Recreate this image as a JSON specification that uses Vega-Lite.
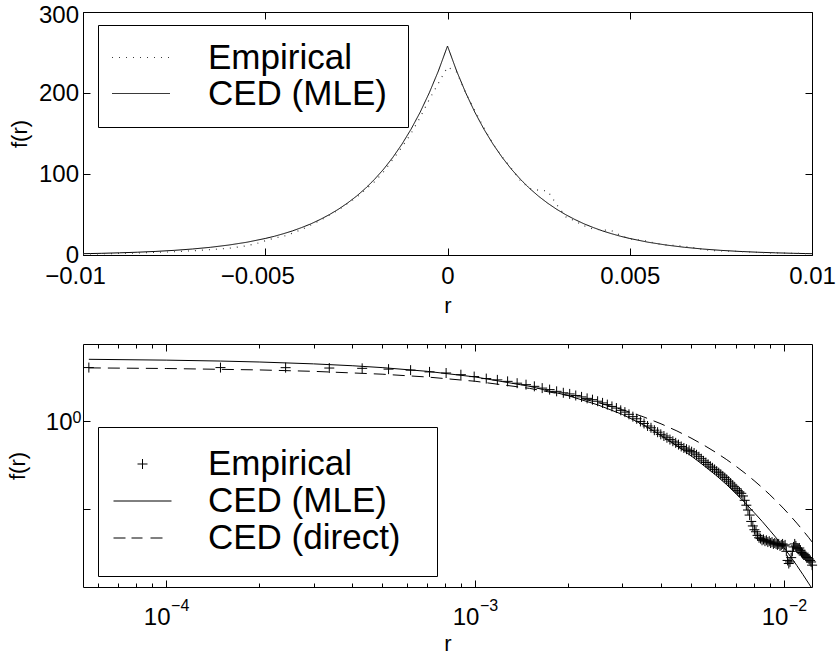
{
  "$schema": "https://vega.github.io/schema/vega-lite/v6.json",
  "background": "white",
  "padding": {"left": 5, "top": 2, "right": 0, "bottom": 0},
  "spacing": 89,
  "bounds": "flush",
  "datasets": {
    "topMLE": [
      {"r": -0.01, "f": 1.61}, {"r": -0.0095, "f": 2.08}, {"r": -0.009, "f": 2.68}, {"r": -0.0085, "f": 3.45}, {"r": -0.008, "f": 4.45}, {"r": -0.0075, "f": 5.73}, {"r": -0.007, "f": 7.39}, {"r": -0.0065, "f": 9.52}, {"r": -0.006, "f": 12.3}, {"r": -0.0055, "f": 15.8}, {"r": -0.005, "f": 20.4}, {"r": -0.00475, "f": 23.1}, {"r": -0.0045, "f": 26.3}, {"r": -0.00425, "f": 29.8}, {"r": -0.004, "f": 33.9}, {"r": -0.00375, "f": 38.4}, {"r": -0.0035, "f": 43.7}, {"r": -0.00325, "f": 49.6}, {"r": -0.003, "f": 56.3}, {"r": -0.00275, "f": 63.9}, {"r": -0.0025, "f": 72.5}, {"r": -0.00225, "f": 82.3}, {"r": -0.002, "f": 93.5}, {"r": -0.00175, "f": 106.1}, {"r": -0.0015, "f": 120.5}, {"r": -0.00125, "f": 136.8}, {"r": -0.001, "f": 155.3}, {"r": -0.00075, "f": 176.3}, {"r": -0.0005, "f": 200.2}, {"r": -0.00025, "f": 227.2}, {"r": 0, "f": 258},
      {"r": 0.00025, "f": 227.2}, {"r": 0.0005, "f": 200.2}, {"r": 0.00075, "f": 176.3}, {"r": 0.001, "f": 155.3}, {"r": 0.00125, "f": 136.8}, {"r": 0.0015, "f": 120.5}, {"r": 0.00175, "f": 106.1}, {"r": 0.002, "f": 93.5}, {"r": 0.00225, "f": 82.3}, {"r": 0.0025, "f": 72.5}, {"r": 0.00275, "f": 63.9}, {"r": 0.003, "f": 56.3}, {"r": 0.00325, "f": 49.6}, {"r": 0.0035, "f": 43.7}, {"r": 0.00375, "f": 38.4}, {"r": 0.004, "f": 33.9}, {"r": 0.00425, "f": 29.8}, {"r": 0.0045, "f": 26.3}, {"r": 0.00475, "f": 23.1}, {"r": 0.005, "f": 20.4}, {"r": 0.0055, "f": 15.8}, {"r": 0.006, "f": 12.3}, {"r": 0.0065, "f": 9.52}, {"r": 0.007, "f": 7.39}, {"r": 0.0075, "f": 5.73}, {"r": 0.008, "f": 4.45}, {"r": 0.0085, "f": 3.45}, {"r": 0.009, "f": 2.68}, {"r": 0.0095, "f": 2.08}, {"r": 0.01, "f": 1.61}
    ],
    "topEmp": [
      {"r": -0.01, "f": 1.2}, {"r": -0.00975, "f": 1.4}, {"r": -0.0095, "f": 1.5}, {"r": -0.00925, "f": 1.7}, {"r": -0.009, "f": 2.0}, {"r": -0.00875, "f": 2.2}, {"r": -0.0085, "f": 2.6}, {"r": -0.00825, "f": 2.9}, {"r": -0.008, "f": 3.4}, {"r": -0.00775, "f": 3.6}, {"r": -0.0075, "f": 4.0}, {"r": -0.00725, "f": 4.6}, {"r": -0.007, "f": 5.2}, {"r": -0.00675, "f": 5.9}, {"r": -0.0065, "f": 6.6}, {"r": -0.00625, "f": 7.4}, {"r": -0.006, "f": 8.3}, {"r": -0.00575, "f": 9.8}, {"r": -0.0055, "f": 11.5}, {"r": -0.00525, "f": 14.0}, {"r": -0.005, "f": 17.5}, {"r": -0.00475, "f": 21.0}, {"r": -0.0045, "f": 23.0}, {"r": -0.00425, "f": 27.0}, {"r": -0.004, "f": 31.5}, {"r": -0.00375, "f": 37.0}, {"r": -0.0035, "f": 42.5}, {"r": -0.00325, "f": 49.0}, {"r": -0.003, "f": 55.5}, {"r": -0.00275, "f": 63.5}, {"r": -0.0025, "f": 71.0}, {"r": -0.00225, "f": 81.0}, {"r": -0.002, "f": 90.5}, {"r": -0.00175, "f": 103}, {"r": -0.0015, "f": 118}, {"r": -0.00125, "f": 133}, {"r": -0.001, "f": 150}, {"r": -0.00075, "f": 170}, {"r": -0.0005, "f": 192}, {"r": -0.00025, "f": 212}, {"r": 0, "f": 232},
      {"r": 0.00025, "f": 226}, {"r": 0.0005, "f": 200}, {"r": 0.00075, "f": 178}, {"r": 0.001, "f": 157}, {"r": 0.00125, "f": 137}, {"r": 0.0015, "f": 121}, {"r": 0.00175, "f": 107}, {"r": 0.002, "f": 92}, {"r": 0.00225, "f": 82}, {"r": 0.0025, "f": 80}, {"r": 0.00275, "f": 79}, {"r": 0.003, "f": 62}, {"r": 0.00325, "f": 47}, {"r": 0.0035, "f": 42}, {"r": 0.00375, "f": 36}, {"r": 0.004, "f": 32}, {"r": 0.00425, "f": 31}, {"r": 0.0045, "f": 30}, {"r": 0.00475, "f": 24}, {"r": 0.005, "f": 20}, {"r": 0.00525, "f": 18.5}, {"r": 0.0055, "f": 17}, {"r": 0.00575, "f": 14}, {"r": 0.006, "f": 12.5}, {"r": 0.00625, "f": 11.8}, {"r": 0.0065, "f": 10.5}, {"r": 0.00675, "f": 9}, {"r": 0.007, "f": 7}, {"r": 0.00725, "f": 5.5}, {"r": 0.0075, "f": 5}, {"r": 0.00775, "f": 4.8}, {"r": 0.008, "f": 4.5}, {"r": 0.00825, "f": 3.8}, {"r": 0.0085, "f": 3.2}, {"r": 0.00875, "f": 2.8}, {"r": 0.009, "f": 2.6}, {"r": 0.00925, "f": 2.2}, {"r": 0.0095, "f": 2.0}, {"r": 0.00975, "f": 1.8}, {"r": 0.01, "f": 1.6}
    ],
    "bEmp": [
      {"r": 0.0000562, "f": 4.00}, {"r": 0.0001499, "f": 4.00}, {"r": 0.0002436, "f": 3.99}, {"r": 0.0003373, "f": 3.95}, {"r": 0.000431, "f": 3.92}, {"r": 0.0005247, "f": 3.84}, {"r": 0.0006184, "f": 3.74}, {"r": 0.0007121, "f": 3.57}, {"r": 0.0008058, "f": 3.47}, {"r": 0.0008995, "f": 3.32},
      {"r": 0.0009932, "f": 3.16}, {"r": 0.0010869, "f": 3.00}, {"r": 0.0011806, "f": 2.90}, {"r": 0.0012743, "f": 2.79}, {"r": 0.001368, "f": 2.66}, {"r": 0.0014617, "f": 2.56}, {"r": 0.0015554, "f": 2.45}, {"r": 0.0016491, "f": 2.34}, {"r": 0.0017428, "f": 2.25}, {"r": 0.0018365, "f": 2.15},
      {"r": 0.0019302, "f": 2.07}, {"r": 0.0020239, "f": 2.01}, {"r": 0.0021176, "f": 1.93}, {"r": 0.0022113, "f": 1.86}, {"r": 0.002305, "f": 1.79}, {"r": 0.0023987, "f": 1.73}, {"r": 0.0024924, "f": 1.66}, {"r": 0.0025861, "f": 1.59}, {"r": 0.0026798, "f": 1.52}, {"r": 0.0027735, "f": 1.45},
      {"r": 0.0028672, "f": 1.39}, {"r": 0.0029609, "f": 1.31}, {"r": 0.0030546, "f": 1.25}, {"r": 0.0031483, "f": 1.18}, {"r": 0.003242, "f": 1.11}, {"r": 0.0033357, "f": 1.05}, {"r": 0.0034294, "f": 0.98}, {"r": 0.0035231, "f": 0.93}, {"r": 0.0036168, "f": 0.87}, {"r": 0.0037105, "f": 0.83},
      {"r": 0.0038042, "f": 0.78}, {"r": 0.0038979, "f": 0.74}, {"r": 0.0039916, "f": 0.70}, {"r": 0.0040853, "f": 0.67}, {"r": 0.004179, "f": 0.64}, {"r": 0.0042727, "f": 0.61}, {"r": 0.0043664, "f": 0.585}, {"r": 0.0044601, "f": 0.56}, {"r": 0.0045538, "f": 0.535}, {"r": 0.0046475, "f": 0.51},
      {"r": 0.0047412, "f": 0.49}, {"r": 0.0048349, "f": 0.475}, {"r": 0.0049286, "f": 0.46}, {"r": 0.0050223, "f": 0.445}, {"r": 0.005116, "f": 0.43}, {"r": 0.0052097, "f": 0.41}, {"r": 0.0053034, "f": 0.39}, {"r": 0.0053971, "f": 0.37}, {"r": 0.0054908, "f": 0.35}, {"r": 0.0055845, "f": 0.335},
      {"r": 0.0056782, "f": 0.32}, {"r": 0.0057719, "f": 0.305}, {"r": 0.0058656, "f": 0.292}, {"r": 0.0059593, "f": 0.28}, {"r": 0.006053, "f": 0.268}, {"r": 0.0061467, "f": 0.257}, {"r": 0.0062404, "f": 0.247}, {"r": 0.0063341, "f": 0.236}, {"r": 0.0064278, "f": 0.226}, {"r": 0.0065215, "f": 0.216},
      {"r": 0.0066152, "f": 0.206}, {"r": 0.0067089, "f": 0.196}, {"r": 0.0068026, "f": 0.186}, {"r": 0.0068963, "f": 0.178}, {"r": 0.00699, "f": 0.169}, {"r": 0.0070837, "f": 0.161}, {"r": 0.0071774, "f": 0.155}, {"r": 0.0072711, "f": 0.150}, {"r": 0.0073648, "f": 0.140}, {"r": 0.0074585, "f": 0.125},
      {"r": 0.0075522, "f": 0.110}, {"r": 0.0076459, "f": 0.097}, {"r": 0.0077396, "f": 0.085}, {"r": 0.0078333, "f": 0.072}, {"r": 0.007927, "f": 0.064}, {"r": 0.0080207, "f": 0.058}, {"r": 0.0081144, "f": 0.055}, {"r": 0.0082081, "f": 0.050}, {"r": 0.0083018, "f": 0.047}, {"r": 0.0083955, "f": 0.046},
      {"r": 0.0084892, "f": 0.044}, {"r": 0.0085829, "f": 0.045}, {"r": 0.0086766, "f": 0.043}, {"r": 0.0087703, "f": 0.044}, {"r": 0.008864, "f": 0.042}, {"r": 0.0089577, "f": 0.043}, {"r": 0.0090514, "f": 0.041}, {"r": 0.0091451, "f": 0.042}, {"r": 0.0092388, "f": 0.040}, {"r": 0.0093325, "f": 0.041},
      {"r": 0.0094262, "f": 0.040}, {"r": 0.0095199, "f": 0.039}, {"r": 0.0096136, "f": 0.040}, {"r": 0.0097073, "f": 0.038}, {"r": 0.009801, "f": 0.039}, {"r": 0.0098947, "f": 0.040}, {"r": 0.0099884, "f": 0.038}, {"r": 0.0100821, "f": 0.039}, {"r": 0.0101758, "f": 0.033}, {"r": 0.0102695, "f": 0.026},
      {"r": 0.0103632, "f": 0.024}, {"r": 0.0104569, "f": 0.025}, {"r": 0.0105506, "f": 0.028}, {"r": 0.0106443, "f": 0.033}, {"r": 0.010738, "f": 0.037}, {"r": 0.0108317, "f": 0.040}, {"r": 0.0109254, "f": 0.038}, {"r": 0.0110191, "f": 0.036}, {"r": 0.0111128, "f": 0.035}, {"r": 0.0112065, "f": 0.036},
      {"r": 0.0113002, "f": 0.034}, {"r": 0.0113939, "f": 0.032}, {"r": 0.0114876, "f": 0.031}, {"r": 0.0115813, "f": 0.030}, {"r": 0.011675, "f": 0.030}, {"r": 0.0117687, "f": 0.029}, {"r": 0.0118624, "f": 0.028}, {"r": 0.0119561, "f": 0.028}, {"r": 0.0120498, "f": 0.027}, {"r": 0.0121435, "f": 0.026},
      {"r": 0.0122372, "f": 0.025}, {"r": 0.0123309, "f": 0.023}
    ],
    "bMLE": [
      {"r": 0.0000562, "f": 4.962}, {"r": 0.0001, "f": 4.857}, {"r": 0.00015, "f": 4.740}, {"r": 0.0002, "f": 4.626}, {"r": 0.0003, "f": 4.406}, {"r": 0.0004, "f": 4.196}, {"r": 0.0005, "f": 3.996}, {"r": 0.0007, "f": 3.625}, {"r": 0.001, "f": 3.131}, {"r": 0.0015, "f": 2.454}, {"r": 0.002, "f": 1.923}, {"r": 0.0025, "f": 1.507}, {"r": 0.003, "f": 1.175}, {"r": 0.0035, "f": 0.90}, {"r": 0.004, "f": 0.68}, {"r": 0.0045, "f": 0.52}, {"r": 0.005, "f": 0.40}, {"r": 0.0055, "f": 0.31}, {"r": 0.006, "f": 0.243}, {"r": 0.0065, "f": 0.19}, {"r": 0.007, "f": 0.148}, {"r": 0.0075, "f": 0.116}, {"r": 0.008, "f": 0.091}, {"r": 0.0085, "f": 0.072}, {"r": 0.009, "f": 0.057}, {"r": 0.0095, "f": 0.0455}, {"r": 0.01, "f": 0.0362}, {"r": 0.0105, "f": 0.0288}, {"r": 0.011, "f": 0.0228}, {"r": 0.0115, "f": 0.0181}, {"r": 0.012, "f": 0.0144}, {"r": 0.01232, "f": 0.0125}
    ],
    "bDir": [
      {"r": 0.0000562, "f": 3.967}, {"r": 0.0001, "f": 3.903}, {"r": 0.0002, "f": 3.761}, {"r": 0.0003, "f": 3.624}, {"r": 0.0005, "f": 3.366}, {"r": 0.0007, "f": 3.125}, {"r": 0.001, "f": 2.797}, {"r": 0.0015, "f": 2.324}, {"r": 0.002, "f": 1.931}, {"r": 0.0025, "f": 1.605}, {"r": 0.003, "f": 1.333}, {"r": 0.0035, "f": 1.108}, {"r": 0.004, "f": 0.9206}, {"r": 0.0045, "f": 0.765}, {"r": 0.005, "f": 0.6356}, {"r": 0.0055, "f": 0.5281}, {"r": 0.006, "f": 0.4389}, {"r": 0.0065, "f": 0.3647}, {"r": 0.007, "f": 0.303}, {"r": 0.0075, "f": 0.2518}, {"r": 0.008, "f": 0.2092}, {"r": 0.0085, "f": 0.1739}, {"r": 0.009, "f": 0.1445}, {"r": 0.0095, "f": 0.12}, {"r": 0.01, "f": 0.0998}, {"r": 0.0105, "f": 0.0829}, {"r": 0.011, "f": 0.0689}, {"r": 0.0115, "f": 0.0572}, {"r": 0.012, "f": 0.0476}, {"r": 0.01232, "f": 0.0422}
    ]
  },
  "vconcat": [
    {
      "width": 729,
      "height": 243,
      "layer": [
        {
          "data": {"name": "topMLE"},
          "mark": {"type": "line", "color": "black", "strokeWidth": 1, "clip": true},
          "encoding": {
            "x": {"field": "r", "type": "quantitative", "scale": {"domain": [-0.01, 0.01], "nice": false, "zero": false},
              "axis": {"orient": "bottom", "values": [-0.01, -0.005, 0, 0.005, 0.01], "format": "~g",
                "labelOffset": {"condition": {"test": "datum.value < 0", "value": -8}, "value": 0},
                "title": "r", "labelPadding": 16.5, "titlePadding": 6.5}},
            "y": {"field": "f", "type": "quantitative", "scale": {"domain": [0, 300], "nice": false, "zero": false},
              "axis": {"orient": "left", "values": [0, 100, 200, 300], "format": "d", "title": "f(r)", "labelPadding": 11.5, "titlePadding": 7,
                "labelOffset": {"condition": {"test": "datum.value > 250", "value": 3}, "value": 0}}},
            "strokeDash": {"datum": "CED (MLE)", "type": "nominal",
              "scale": {"domain": ["Empirical", "CED (MLE)"], "range": [[1, 6], [1, 0]]},
              "legend": {"orient": "none", "legendX": 15, "legendY": 13, "padding": 15, "rowPadding": 0,
                "title": "\u00a0", "titleOrient": "right", "titleFontSize": 10, "titlePadding": 6,
                "strokeColor": "black", "fillColor": "white", "cornerRadius": 0,
                "labelFontSize": 35, "labelFont": "Liberation Sans", "labelColor": "black", "labelLimit": 400,
                "symbolType": "M-2.9,0H2.9", "symbolSize": 400, "symbolStrokeWidth": 1, "symbolStrokeColor": "black",
                "symbolOffset": 10.5, "labelOffset": 49.5}}
          }
        },
        {
          "data": {"name": "topEmp"},
          "mark": {"type": "line", "color": "#3a3a3a", "strokeWidth": 1.2, "clip": true},
          "encoding": {
            "x": {"field": "r", "type": "quantitative", "axis": {"orient": "top", "values": [-0.01, -0.005, 0, 0.005, 0.01], "labels": false, "title": null}},
            "y": {"field": "f", "type": "quantitative", "axis": {"orient": "right", "values": [0, 100, 200, 300], "labels": false, "title": null}},
            "strokeDash": {"datum": "Empirical", "type": "nominal"}
          }
        }
      ],
      "resolve": {"axis": {"x": "independent", "y": "independent"}}
    },
    {
      "width": 729,
      "height": 243,
      "layer": [
        {
          "data": {"name": "bEmp"},
          "mark": {"type": "point", "filled": false, "color": "black", "strokeWidth": 1, "size": 400, "opacity": 1},
          "encoding": {
            "x": {"field": "r", "type": "quantitative", "scale": {"type": "log", "domain": [0.0000538, 0.01232], "nice": false, "zero": false},
              "axis": {"orient": "bottom", "values": [0.0001, 0.001, 0.01], "labelExpr": "'10'", "labelOffset": -9.5, "labelPadding": 25, "title": "r", "titlePadding": 4}},
            "y": {"field": "f", "type": "quantitative", "scale": {"type": "log", "domain": [0.013, 7.4], "nice": false, "zero": false},
              "axis": {"orient": "left", "values": [0.1, 1], "labelExpr": "datum.value > 0.5 ? '10' : ''", "labelPadding": 18, "labelOffset": 2, "title": "f(r)", "titlePadding": 16}},
            "shape": {"datum": "Empirical", "type": "nominal",
              "scale": {"domain": ["Empirical", "CED (MLE)", "CED (direct)"],
                "range": ["M-0.5,0H0.5M0,-0.5V0.5", "M-2.9,0H2.9", "M-2.9,0H-1.7M-1.1,0H0M0.8,0H2"]},
              "legend": {"orient": "none", "legendX": 15, "legendY": 415, "padding": 19.5, "rowPadding": 1,
                "title": "\u00a0", "titleOrient": "right", "titleFontSize": 10, "titlePadding": 17,
                "strokeColor": "black", "fillColor": "white", "cornerRadius": 0,
                "labelFontSize": 35, "labelFont": "Liberation Sans", "labelColor": "black", "labelLimit": 400,
                "symbolSize": 400, "symbolStrokeWidth": 1, "symbolStrokeColor": "black", "symbolFillColor": "transparent",
                "symbolOffset": 7.5, "labelOffset": 48}}
          }
        },
        {
          "data": {"name": "bMLE"},
          "mark": {"type": "line", "color": "black", "strokeWidth": 1, "clip": true},
          "encoding": {
            "x": {"field": "r", "type": "quantitative", "axis": {"orient": "top", "values": [0.0001, 0.001, 0.01], "labels": false, "title": null}},
            "y": {"field": "f", "type": "quantitative", "axis": {"orient": "right", "values": [0.1, 1], "labels": false, "title": null}}
          }
        },
        {
          "data": {"name": "bDir"},
          "mark": {"type": "line", "color": "black", "strokeWidth": 1, "strokeDash": [12, 7], "clip": true},
          "encoding": {
            "x": {"field": "r", "type": "quantitative", "axis": {"orient": "bottom", "values": [0.00006, 0.00007, 0.00008, 0.00009, 0.0002, 0.0003, 0.0004, 0.0005, 0.0006, 0.0007, 0.0008, 0.0009, 0.002, 0.003, 0.004, 0.005, 0.006, 0.007, 0.008, 0.009], "labels": false, "tickSize": -4, "title": null}},
            "y": {"field": "f", "type": "quantitative", "axis": {"orient": "left", "values": [1], "labelExpr": "'0'", "ticks": false, "tickSize": 0, "labelFontSize": 16, "labelPadding": 2, "labelOffset": -3.5, "title": null}}
          }
        },
        {
          "data": {"name": "bMLE"},
          "mark": {"type": "line", "color": "black", "strokeWidth": 1, "opacity": 0, "clip": true},
          "encoding": {
            "x": {"field": "r", "type": "quantitative", "axis": {"orient": "top", "values": [0.00006, 0.00007, 0.00008, 0.00009, 0.0002, 0.0003, 0.0004, 0.0005, 0.0006, 0.0007, 0.0008, 0.0009, 0.002, 0.003, 0.004, 0.005, 0.006, 0.007, 0.008, 0.009], "labels": false, "tickSize": -4, "title": null}},
            "y": {"field": "f", "type": "quantitative", "axis": null}
          }
        },
        {
          "data": {"name": "bDir"},
          "mark": {"type": "line", "color": "black", "strokeWidth": 1, "opacity": 0, "clip": true},
          "encoding": {
            "x": {"field": "r", "type": "quantitative", "axis": {"orient": "bottom", "values": [0.0001, 0.001, 0.01], "ticks": false, "tickSize": 0, "labelExpr": "datum.value < 0.0005 ? '−4' : datum.value < 0.005 ? '−3' : '−2'", "labelFontSize": 16, "labelOffset": 13.5, "labelPadding": 10.5, "title": null}},
            "y": {"field": "f", "type": "quantitative", "axis": null}
          }
        }
      ],
      "resolve": {"axis": {"x": "independent", "y": "independent"}}
    }
  ],
  "config": {
    "font": "Liberation Sans",
    "view": {"stroke": "black", "strokeWidth": 1, "fill": "white"},
    "axis": {
      "domain": false, "grid": false, "tickSize": -7, "tickColor": "black", "tickWidth": 1,
      "labelFont": "Liberation Sans", "labelFontSize": 24, "labelColor": "black", "labelAngle": 0,
      "labelFlush": false, "labelOverlap": false, "labelBound": false,
      "titleFont": "Liberation Sans", "titleFontSize": 22, "titleFontWeight": "normal", "titleColor": "black"
    }
  }
}
